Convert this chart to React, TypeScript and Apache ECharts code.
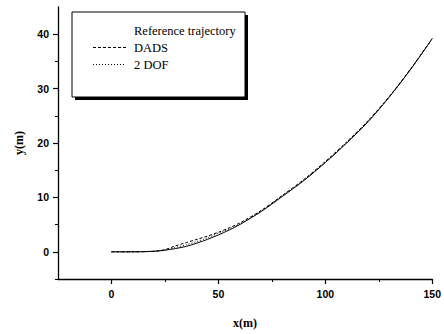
import React, { useEffect, useRef } from "react";
import * as echarts from "echarts";

const xValues = [0, 10, 20, 25, 30, 35, 40, 45, 50, 55, 60, 70, 80, 90, 100, 110, 120, 130, 140, 150];
const refY = [0, 0, 0.1, 0.3, 0.6, 1.0, 1.6, 2.3, 3.1, 4.0, 5.0, 7.4, 10.2, 13.1, 16.4, 20.0, 23.9, 28.5, 33.6, 39.2];
const dadsY = [0, 0, 0.1, 0.4, 1.1, 1.7, 2.3, 2.9, 3.6, 4.4, 5.3, 7.6, 10.4, 13.3, 16.6, 20.2, 24.1, 28.6, 33.7, 39.2];
const dofY = [0, 0, 0.1, 0.3, 0.8, 1.3, 1.9, 2.6, 3.4, 4.2, 5.1, 7.5, 10.3, 13.2, 16.5, 20.1, 24.0, 28.5, 33.6, 39.1];

const xMajor = [0, 50, 100, 150];
const xMinor = [25, 75, 125];
const yMajor = [0, 10, 20, 30, 40];
const yMinor = [-5, 5, 15, 25, 35];

const seriesNames = ["Reference trajectory", "DADS", "2 DOF"];

const pair = (ys: number[]) => xValues.map((x, i) => [x, ys[i]]);

export default function App() {
  const ref = useRef<HTMLDivElement>(null);
  useEffect(() => {
    if (!ref.current) return;
    const chart = echarts.init(ref.current, null, { renderer: "svg" });
    const tickLabel = {
      fontFamily: "Liberation Sans, Arial, sans-serif",
      fontWeight: "bold" as const,
      fontSize: 10.5,
      color: "#000",
    };
    const nameStyle = {
      fontFamily: "Liberation Serif, Times New Roman, serif",
      fontWeight: "bold" as const,
      fontSize: 12,
      color: "#000",
    };
    chart.setOption({
      animation: false,
      backgroundColor: "#fff",
      grid: { left: 58, right: 8, top: 7, bottom: 47 },
      xAxis: [
        {
          type: "value",
          min: -25,
          max: 150,
          name: "x(m)",
          nameLocation: "middle",
          nameGap: 38,
          nameTextStyle: nameStyle,
          axisLine: { show: true, onZero: false, lineStyle: { color: "#000", width: 1.3 } },
          axisTick: { show: true, customValues: xMajor, length: 5, lineStyle: { color: "#000", width: 1.2 } },
          axisLabel: { customValues: xMajor, margin: 9, ...tickLabel },
          splitLine: { show: false },
        },
        {
          type: "value",
          min: -25,
          max: 150,
          position: "bottom",
          axisLine: { show: false, onZero: false },
          axisTick: { show: true, customValues: xMinor, length: 3, lineStyle: { color: "#000", width: 1 } },
          axisLabel: { show: false },
          splitLine: { show: false },
        },
      ],
      yAxis: [
        {
          type: "value",
          min: -5,
          max: 45,
          name: "y(m)",
          nameLocation: "middle",
          nameGap: 33,
          nameTextStyle: nameStyle,
          axisLine: { show: true, onZero: false, lineStyle: { color: "#000", width: 1.3 } },
          axisTick: { show: true, customValues: yMajor, length: 5, lineStyle: { color: "#000", width: 1.2 } },
          axisLabel: { customValues: yMajor, margin: 9, ...tickLabel },
          splitLine: { show: false },
        },
        {
          type: "value",
          min: -5,
          max: 45,
          position: "left",
          axisLine: { show: false, onZero: false },
          axisTick: { show: true, customValues: yMinor, length: 3, lineStyle: { color: "#000", width: 1 } },
          axisLabel: { show: false },
          splitLine: { show: false },
        },
      ],
      graphic: [
        { type: "rect", z: 1, shape: { x: 75, y: 15, width: 173, height: 85 }, style: { fill: "#000" } },
        { type: "rect", z: 2, shape: { x: 72, y: 12, width: 173, height: 85 }, style: { fill: "#fff", stroke: "#000", lineWidth: 1 } },
      ],
      legend: {
        z: 10,
        orient: "vertical",
        left: 87,
        top: 19,
        itemWidth: 33,
        itemHeight: 10,
        itemGap: 4,
        itemStyle: { opacity: 0 },
        textStyle: {
          fontFamily: "Liberation Serif, Times New Roman, serif",
          fontSize: 12.5,
          color: "#000",
          padding: [0, 0, 0, 3],
        },
        data: [
          { name: seriesNames[0], lineStyle: { opacity: 0 }, itemStyle: { opacity: 0 } },
          { name: seriesNames[1], lineStyle: { width: 1 }, itemStyle: { opacity: 0 } },
          { name: seriesNames[2], lineStyle: { width: 1 }, itemStyle: { opacity: 0 } },
        ],
      },
      series: [
        {
          name: seriesNames[0],
          type: "line",
          symbol: "none",
          smooth: 0.3,
          data: pair(refY),
          lineStyle: { color: "#000", width: 1, type: "solid" },
          itemStyle: { color: "#000" },
        },
        {
          name: seriesNames[1],
          type: "line",
          symbol: "none",
          smooth: 0.3,
          data: pair(dadsY),
          lineStyle: { color: "#000", width: 1, type: [3, 2] },
          itemStyle: { color: "#000" },
        },
        {
          name: seriesNames[2],
          type: "line",
          symbol: "none",
          smooth: 0.3,
          data: pair(dofY),
          lineStyle: { color: "#000", width: 1, type: [1, 2] },
          itemStyle: { color: "#000" },
        },
      ],
    });
    return () => chart.dispose();
  }, []);
  return <div ref={ref} style={{ position: "fixed", left: 0, top: 0, width: 444, height: 334 }} />;
}
